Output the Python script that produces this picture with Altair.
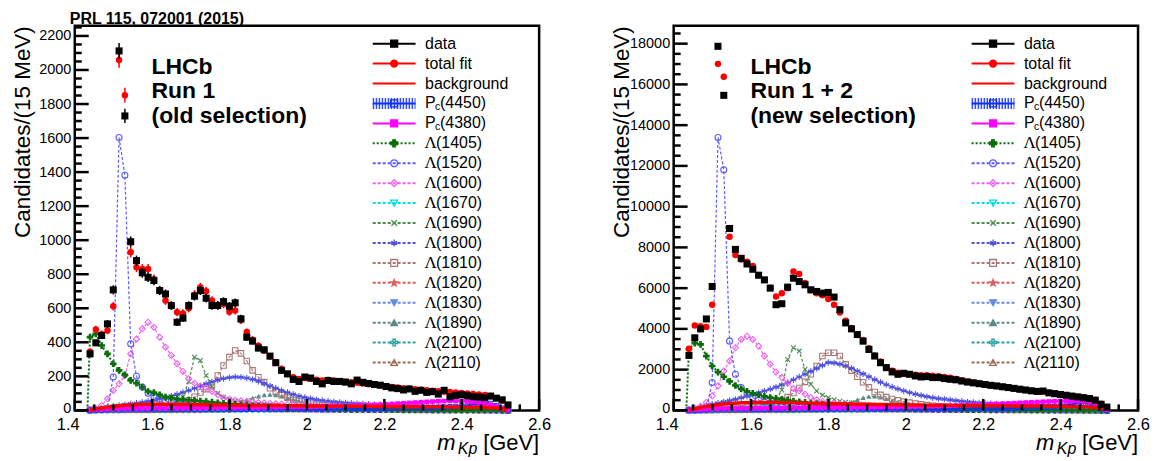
import altair as alt
import pandas as pd

FONT = "Liberation Sans"

# ---------------- bin centres (15 MeV bins) ----------------
mass = [1.4395, 1.4545, 1.4695, 1.4845, 1.4995, 1.5145, 1.5295, 1.5445, 1.5595, 1.5745,
        1.5895, 1.6045, 1.6195, 1.6345, 1.6495, 1.6645, 1.6795, 1.6945, 1.7095, 1.7245,
        1.7395, 1.7545, 1.7695, 1.7845, 1.7995, 1.8145, 1.8295, 1.8445, 1.8595, 1.8745,
        1.8895, 1.9045, 1.9195, 1.9345, 1.9495, 1.9645, 1.9795, 1.9945, 2.0095, 2.0245,
        2.0395, 2.0545, 2.0695, 2.0845, 2.0995, 2.1145, 2.1295, 2.1445, 2.1595, 2.1745,
        2.1895, 2.2045, 2.2195, 2.2345, 2.2495, 2.2645, 2.2795, 2.2945, 2.3095, 2.3245,
        2.3395, 2.3545, 2.3695, 2.3845, 2.3995, 2.4145, 2.4295, 2.4445, 2.4595, 2.4745,
        2.4895, 2.5045, 2.5195]
threshold = 1.4327

# ---------------- left panel (Run 1) ----------------
data_L = [332, 397, 440, 508, 708, 2112, 1730, 991, 880, 808,
          782, 763, 704, 684, 616, 518, 542, 616, 671, 704,
          659, 616, 616, 639, 612, 632, 538, 430, 407, 366,
          356, 319, 280, 235, 215, 182, 170, 196, 190, 170,
          156, 176, 170, 170, 166, 156, 178, 165, 158, 152,
          148, 140, 132, 128, 120, 126, 112, 118, 106, 110,
          96, 118, 80, 88, 92, 86, 80, 78, 74, 84,
          72, 62, 32]
fit_L = [345, 475, 448, 469, 612, 2059, 1852, 929, 841, 831,
         831, 770, 705, 645, 615, 577, 570, 600, 680, 723,
         700, 645, 618, 625, 580, 587, 530, 460, 415, 380,
         350, 318, 285, 245, 212, 195, 185, 190, 186, 180,
         176, 178, 175, 172, 168, 165, 162, 158, 154, 150,
         146, 142, 138, 134, 130, 127, 124, 121, 118, 115,
         112, 110, 108, 105, 102, 99, 96, 93, 90, 84,
         72, 56, 32]
L1405_L = [430, 450, 381, 332, 274, 235, 209, 176, 160, 137,
           111, 104, 92, 78, 72, 68, 64, 60, 57, 54,
           51, 48, 45, 42, 39, 36, 33, 30, 27, 25,
           23, 21, 19, 17, 15, 14, 13, 12, 11, 10,
           9, 8, 8, 7, 7, 6, 6, 5, 5, 5,
           4, 4, 4, 4, 3, 3, 3, 3, 3, 2,
           2, 2, 2, 2, 2, 2, 1, 1, 1, 1,
           1, 0, 0]
L1520_L = [1, 2, 4, 10, 196, 1603, 1382, 391, 201, 137,
           100, 80, 66, 56, 48, 42, 37, 33, 30, 27,
           25, 23, 21, 19, 18, 17, 16, 15, 14, 13,
           12, 11, 11, 10, 10, 9, 9, 8, 8, 8,
           7, 7, 7, 6, 6, 6, 6, 6, 5, 5,
           5, 5, 5, 5, 4, 4, 4, 4, 4, 4,
           4, 3, 3, 3, 3, 3, 3, 3, 3, 2,
           2, 2, 1]
L1600_L = [3, 10, 29, 68, 117, 156, 205, 332, 420, 479,
           518, 489, 430, 371, 323, 274, 229, 186, 160, 143,
           131, 111, 92, 72, 65, 60, 56, 52, 49, 46,
           43, 41, 39, 37, 35, 33, 32, 30, 29, 28,
           27, 26, 25, 24, 23, 23, 22, 21, 21, 20,
           20, 19, 19, 18, 18, 17, 17, 16, 16, 16,
           15, 15, 15, 14, 14, 14, 13, 13, 12, 11,
           9, 6, 3]
L1670_L = [1, 1, 2, 2, 3, 3, 4, 4, 5, 6,
           7, 8, 10, 14, 20, 26, 24, 17, 12, 10,
           9, 8, 8, 7, 7, 6, 6, 6, 5, 5,
           5, 5, 5, 5, 5, 5, 5, 5, 5, 5,
           5, 5, 5, 5, 5, 5, 5, 5, 5, 5,
           5, 5, 5, 5, 5, 5, 5, 5, 5, 5,
           5, 5, 5, 5, 5, 5, 5, 5, 5, 5,
           4, 3, 1]
L1690_L = [2, 3, 4, 5, 6, 8, 9, 11, 13, 15,
           17, 19, 22, 26, 30, 40, 80, 170, 313, 293,
           205, 140, 100, 78, 65, 56, 50, 45, 41, 38,
           35, 32, 30, 28, 26, 24, 22, 21, 20, 19,
           18, 17, 16, 15, 14, 14, 13, 13, 12, 12,
           11, 11, 10, 10, 10, 9, 9, 9, 8, 8,
           8, 7, 7, 7, 6, 6, 6, 5, 5, 4,
           3, 2, 1]
L1800_L = [5, 10, 15, 20, 25, 30, 34, 38, 42, 47,
           53, 60, 67, 75, 84, 94, 105, 117, 130, 143,
           156, 168, 178, 187, 193, 196, 195, 190, 182, 171,
           158, 144, 130, 117, 105, 94, 84, 76, 69, 63,
           58, 54, 50, 47, 44, 42, 40, 38, 36, 34,
           33, 31, 30, 29, 28, 27, 26, 25, 24, 23,
           22, 21, 20, 19, 18, 17, 16, 15, 14, 12,
           10, 7, 4]
L1810_L = [3, 4, 5, 6, 7, 8, 9, 10, 11, 13,
           15, 17, 19, 22, 25, 35, 45, 60, 80, 105,
           125, 150, 205, 264, 313, 352, 335, 290, 235, 195,
           166, 130, 110, 90, 75, 62, 52, 45, 39, 34,
           30, 27, 24, 21, 19, 17, 15, 14, 13, 12,
           11, 10, 9, 9, 8, 8, 7, 7, 6, 6,
           6, 5, 5, 5, 4, 4, 4, 3, 3, 3,
           2, 2, 1]
L1820_L = [0, 1, 1, 1, 2, 2, 2, 2, 3, 3,
           3, 3, 4, 4, 4, 5, 5, 6, 6, 7,
           8, 9, 10, 11, 12, 12, 12, 11, 10, 9,
           8, 7, 6, 6, 5, 5, 4, 4, 4, 3,
           3, 3, 3, 3, 2, 2, 2, 2, 2, 2,
           2, 2, 2, 2, 2, 2, 1, 1, 1, 1,
           1, 1, 1, 1, 1, 1, 1, 1, 1, 1,
           1, 0, 0]
L1830_L = [0, 1, 1, 1, 2, 2, 2, 3, 3, 3,
           4, 4, 5, 5, 6, 7, 8, 9, 10, 12,
           14, 16, 18, 21, 23, 25, 26, 25, 23, 20,
           17, 14, 12, 10, 8, 7, 6, 5, 4, 4,
           3, 3, 3, 3, 2, 2, 2, 2, 2, 2,
           2, 2, 2, 1, 1, 1, 1, 1, 1, 1,
           1, 1, 1, 1, 1, 1, 1, 1, 1, 1,
           1, 0, 0]
L1890_L = [1, 1, 2, 2, 3, 3, 4, 4, 5, 5,
           6, 6, 7, 8, 9, 10, 11, 12, 13, 15,
           17, 20, 24, 29, 35, 43, 52, 62, 73, 83,
           90, 93, 90, 83, 74, 64, 55, 47, 40, 34,
           29, 25, 22, 19, 17, 15, 13, 12, 11, 10,
           9, 8, 8, 7, 7, 6, 6, 5, 5, 5,
           4, 4, 4, 4, 3, 3, 3, 3, 2, 2,
           2, 1, 1]
L2100_L = [0, 1, 1, 1, 1, 1, 2, 2, 2, 2,
           2, 2, 2, 3, 3, 3, 3, 3, 3, 3,
           4, 4, 4, 4, 4, 5, 5, 5, 5, 6,
           6, 6, 7, 7, 7, 8, 8, 9, 9, 10,
           10, 11, 11, 11, 12, 12, 12, 11, 11, 10,
           10, 9, 9, 8, 8, 7, 7, 7, 6, 6,
           6, 5, 5, 5, 5, 4, 4, 4, 3, 3,
           2, 1, 0]
L2110_L = [0, 1, 1, 1, 1, 2, 2, 2, 2, 2,
           3, 3, 3, 3, 3, 4, 4, 4, 4, 5,
           5, 5, 5, 6, 6, 6, 6, 7, 7, 7,
           7, 8, 8, 8, 8, 9, 9, 9, 9, 9,
           10, 10, 10, 10, 10, 10, 10, 10, 10, 10,
           10, 9, 9, 9, 9, 8, 8, 8, 7, 7,
           7, 6, 6, 6, 5, 5, 4, 4, 3, 3,
           2, 1, 0]
bkg_L = [2, 8, 14, 19, 23, 27, 30, 32, 34, 35,
         36, 36, 36, 36, 36, 35, 35, 34, 34, 33,
         33, 32, 32, 31, 31, 30, 30, 30, 29, 29,
         29, 28, 28, 28, 27, 27, 27, 26, 26, 26,
         26, 25, 25, 25, 25, 24, 24, 24, 24, 23,
         23, 23, 23, 22, 22, 22, 22, 21, 21, 21,
         21, 20, 20, 20, 19, 19, 18, 18, 17, 16,
         14, 10, 4]
pc80_L = [3, 5, 7, 8, 9, 10, 11, 12, 12, 13,
          13, 13, 14, 14, 14, 14, 15, 15, 15, 15,
          15, 16, 16, 16, 16, 16, 17, 17, 17, 17,
          18, 18, 18, 19, 19, 20, 20, 21, 21, 22,
          23, 24, 25, 26, 27, 28, 29, 30, 31, 33,
          34, 36, 38, 40, 42, 44, 46, 48, 50, 52,
          54, 55, 56, 56, 55, 53, 50, 46, 40, 32,
          22, 10, 2]
pc50_L = [1, 2, 3, 3, 4, 4, 4, 5, 5, 5,
          5, 5, 5, 6, 6, 6, 6, 6, 6, 6,
          6, 7, 7, 7, 7, 7, 7, 7, 7, 8,
          8, 8, 8, 8, 8, 8, 9, 9, 9, 9,
          9, 10, 10, 10, 10, 10, 11, 11, 11, 12,
          12, 12, 13, 13, 14, 14, 15, 15, 16, 17,
          18, 19, 21, 23, 26, 30, 35, 40, 44, 40,
          28, 12, 2]

# ---------------- right panel (Run 1 + 2) ----------------
data_R = [2699, 3561, 4000, 4488, 6081, 17870, 15463, 8927, 7902, 7463,
          7187, 6927, 6634, 6406, 6000, 5187, 5236, 6049, 6488, 6325,
          6163, 5919, 5837, 5756, 5789, 5561, 4943, 4293, 4000, 3724,
          3398, 2992, 2667, 2341, 2098, 1886, 1772, 1821, 1772, 1691,
          1642, 1659, 1610, 1610, 1561, 1528, 1500, 1440, 1390, 1350,
          1310, 1270, 1230, 1200, 1160, 1120, 1080, 1040, 1000, 960,
          930, 950, 860, 820, 780, 740, 700, 660, 620, 580,
          500, 300, 160]
fit_R = [3024, 4163, 4130, 4098, 5187, 17008, 16374, 8520, 7626, 7400,
         7300, 7089, 6650, 6400, 6020, 5590, 5750, 6000, 6813, 6699,
         6250, 5900, 5750, 5650, 5463, 5187, 4800, 4400, 4050, 3700,
         3450, 3050, 2700, 2400, 2100, 1950, 1850, 1800, 1780, 1750,
         1720, 1720, 1700, 1680, 1640, 1600, 1540, 1480, 1420, 1370,
         1320, 1270, 1230, 1190, 1150, 1110, 1070, 1030, 1000, 970,
         940, 910, 870, 830, 790, 750, 710, 670, 630, 590,
         520, 330, 170]
L1405_R = [3000, 3300, 3236, 2667, 2180, 1880, 1650, 1420, 1220, 1060,
           930, 840, 760, 690, 630, 585, 540, 500, 460, 425,
           390, 360, 330, 305, 280, 258, 238, 220, 203, 187,
           172, 158, 146, 134, 123, 113, 104, 96, 88, 81,
           75, 69, 64, 59, 54, 50, 46, 43, 40, 37,
           34, 31, 29, 27, 25, 23, 21, 19, 18, 16,
           15, 14, 13, 12, 11, 10, 9, 8, 7, 6,
           5, 3, 1]
L1520_R = [5, 10, 30, 80, 1366, 13398, 11805, 3398, 1772, 1122,
           800, 620, 510, 430, 370, 320, 285, 255, 230, 210,
           190, 175, 162, 150, 140, 130, 122, 115, 108, 102,
           96, 91, 86, 82, 78, 74, 70, 67, 64, 61,
           58, 56, 53, 51, 49, 47, 45, 43, 41, 40,
           38, 37, 35, 34, 33, 31, 30, 29, 28, 27,
           26, 25, 24, 23, 22, 21, 20, 18, 17, 15,
           12, 8, 3]
L1600_R = [20, 80, 200, 390, 715, 1203, 1935, 2423, 3073, 3480,
           3642, 3480, 3154, 2667, 2260, 1886, 1610, 1333, 1073, 959,
           797, 634, 520, 450, 400, 360, 330, 300, 275, 255,
           238, 222, 208, 196, 185, 175, 166, 158, 150, 143,
           137, 131, 126, 121, 116, 112, 108, 104, 100, 97,
           94, 91, 88, 85, 82, 80, 77, 75, 72, 70,
           68, 66, 64, 62, 60, 57, 54, 50, 45, 38,
           28, 16, 5]
L1670_R = [8, 9, 15, 17, 23, 25, 31, 33, 41, 47,
           57, 63, 81, 110, 162, 208, 191, 135, 97, 79,
           73, 65, 62, 57, 55, 49, 47, 46, 41, 40,
           39, 41, 40, 38, 40, 41, 39, 40, 40, 38,
           40, 41, 39, 40, 40, 38, 40, 41, 39, 40,
           40, 38, 40, 41, 39, 40, 40, 38, 40, 41,
           39, 40, 40, 38, 40, 41, 39, 40, 38, 36,
           32, 24, 8]
L1690_R = [10, 15, 20, 30, 40, 50, 60, 70, 85, 100,
           120, 140, 165, 200, 300, 500, 1000, 2500, 3073, 2911,
           2016, 1285, 950, 750, 620, 520, 450, 400, 360, 325,
           295, 270, 248, 228, 210, 195, 181, 168, 157, 147,
           138, 130, 122, 115, 109, 103, 98, 93, 88, 84,
           80, 76, 72, 69, 66, 63, 60, 57, 54, 52,
           49, 47, 45, 43, 40, 38, 35, 32, 28, 23,
           17, 10, 3]
L1800_R = [60, 120, 180, 240, 300, 360, 420, 480, 540, 620,
           700, 780, 860, 950, 1040, 1140, 1250, 1370, 1500, 1640,
           1780, 1920, 2060, 2210, 2350, 2330, 2270, 2180, 2060, 1930,
           1790, 1650, 1510, 1380, 1260, 1150, 1050, 960, 875, 800,
           735, 675, 620, 575, 555, 515, 480, 450, 420, 395,
           372, 352, 334, 318, 303, 290, 278, 266, 255, 245,
           235, 226, 217, 208, 199, 190, 180, 170, 158, 140,
           115, 80, 30]
L1810_R = [20, 25, 30, 40, 50, 60, 70, 80, 95, 110,
           130, 150, 175, 210, 250, 350, 500, 650, 850, 1100,
           1400, 1772, 2179, 2667, 2829, 2829, 2667, 2260, 1950, 1650,
           1380, 1130, 900, 760, 650, 560, 490, 430, 380, 335,
           295, 260, 230, 205, 182, 162, 145, 130, 117, 105,
           95, 86, 78, 71, 65, 59, 54, 49, 45, 41,
           37, 34, 31, 28, 25, 22, 19, 16, 13, 10,
           7, 4, 1]
L1820_R = [0, 8, 8, 8, 16, 16, 16, 16, 24, 24,
           24, 24, 32, 32, 32, 40, 40, 48, 48, 56,
           64, 72, 80, 88, 96, 96, 96, 88, 80, 72,
           64, 56, 48, 48, 40, 40, 32, 32, 32, 24,
           24, 24, 24, 24, 16, 16, 16, 16, 16, 16,
           16, 16, 16, 16, 16, 16, 8, 8, 8, 8,
           8, 8, 8, 8, 8, 8, 8, 8, 8, 8,
           8, 0, 0]
L1830_R = [0, 8, 8, 8, 16, 16, 16, 24, 24, 24,
           32, 32, 40, 40, 48, 56, 64, 72, 80, 96,
           112, 128, 144, 168, 184, 200, 208, 200, 184, 160,
           136, 112, 96, 80, 64, 56, 48, 40, 32, 32,
           24, 24, 24, 24, 16, 16, 16, 16, 16, 16,
           16, 16, 16, 8, 8, 8, 8, 8, 8, 8,
           8, 8, 8, 8, 8, 8, 8, 8, 8, 8,
           8, 0, 0]
L1890_R = [5, 5, 6, 7, 8, 9, 10, 12, 14, 16,
           18, 21, 24, 28, 33, 38, 44, 51, 60, 70,
           82, 96, 113, 135, 162, 200, 250, 320, 410, 520,
           620, 680, 690, 650, 570, 480, 400, 330, 270, 222,
           185, 155, 130, 110, 94, 81, 70, 61, 54, 48,
           43, 38, 34, 31, 28, 25, 23, 21, 19, 17,
           15, 14, 13, 12, 11, 10, 9, 8, 7, 6,
           5, 3, 1]
L2100_R = [0, 8, 8, 8, 8, 8, 16, 16, 16, 16,
           16, 16, 16, 24, 24, 24, 24, 24, 24, 24,
           32, 32, 32, 32, 32, 40, 40, 40, 40, 48,
           48, 48, 56, 56, 56, 64, 64, 72, 72, 80,
           80, 88, 88, 88, 96, 96, 96, 88, 88, 80,
           80, 72, 72, 64, 64, 56, 56, 56, 48, 48,
           48, 40, 40, 40, 40, 32, 32, 32, 24, 24,
           16, 8, 0]
L2110_R = [0, 8, 8, 8, 8, 16, 16, 16, 16, 16,
           24, 24, 24, 24, 24, 32, 32, 32, 32, 40,
           40, 40, 40, 48, 48, 48, 48, 56, 56, 56,
           56, 64, 64, 64, 64, 72, 72, 72, 72, 72,
           80, 80, 80, 80, 80, 80, 80, 80, 80, 80,
           80, 72, 72, 72, 72, 64, 64, 64, 56, 56,
           56, 48, 48, 48, 40, 40, 32, 32, 24, 24,
           16, 8, 0]
bkg_R = [20, 80, 140, 195, 240, 280, 310, 335, 355, 370,
         380, 385, 388, 388, 386, 383, 380, 375, 370, 364,
         358, 352, 346, 340, 334, 328, 322, 316, 311, 306,
         301, 296, 291, 287, 283, 279, 275, 271, 267, 264,
         261, 258, 255, 252, 249, 246, 243, 240, 238, 235,
         233, 230, 228, 226, 223, 221, 219, 217, 214, 212,
         210, 207, 205, 202, 199, 195, 190, 184, 176, 164,
         145, 105, 40]
pc80_R = [20, 40, 55, 65, 75, 82, 88, 93, 97, 100,
          103, 106, 108, 110, 112, 114, 116, 118, 120, 122,
          124, 126, 128, 130, 132, 134, 136, 138, 140, 143,
          146, 149, 152, 156, 160, 164, 168, 173, 178, 184,
          190, 197, 204, 212, 220, 229, 238, 248, 258, 269,
          280, 292, 304, 317, 330, 343, 357, 371, 385, 399,
          412, 425, 437, 447, 455, 460, 460, 455, 440, 410,
          330, 180, 40]
pc50_R = [10, 15, 20, 25, 30, 33, 36, 38, 40, 42,
          44, 46, 48, 50, 52, 53, 54, 55, 56, 57,
          58, 59, 60, 61, 62, 63, 64, 65, 66, 67,
          68, 69, 70, 71, 72, 73, 74, 75, 76, 77,
          78, 79, 80, 81, 82, 83, 85, 87, 89, 91,
          93, 95, 98, 101, 104, 108, 112, 117, 123, 130,
          140, 152, 168, 190, 220, 260, 305, 345, 360, 320,
          220, 100, 20]

# ---------------- axis tick values ----------------
x_major = [1.4, 1.6, 1.8, 2.0, 2.2, 2.4, 2.6]
x_minor = [1.45, 1.5, 1.55, 1.65, 1.7, 1.75, 1.85, 1.9, 1.95,
           2.05, 2.1, 2.15, 2.25, 2.3, 2.35, 2.45, 2.5, 2.55]
yL_major = list(range(0, 2201, 200))
yL_minor = [v for v in range(50, 2260, 50) if v % 200]
yR_major = list(range(0, 18001, 2000))
yR_minor = [v for v in range(500, 18880, 500) if v % 2000]

# ---------------- legend ----------------
leg_keys = ["data", "fit", "bkg", "pc50", "pc80", "L1405", "L1520", "L1600", "L1670",
            "L1690", "L1800", "L1810", "L1820", "L1830", "L1890", "L2100", "L2110"]
leg_kind = ["plain", "plain", "plain", "pc", "pc"] + ["lam"] * 12
leg_rest = ["data", "total fit", "background", "(4450)", "(4380)", "(1405)", "(1520)",
            "(1600)", "(1670)", "(1690)", "(1800)", "(1810)", "(1820)", "(1830)",
            "(1890)", "(2100)", "(2110)"]

XPATH = "M-0.8,-0.8L0.8,0.8M-0.8,0.8L0.8,-0.8"
ASTER = "M0,-1L0,1M-0.87,-0.5L0.87,0.5M-0.87,0.5L0.87,-0.5M-1,0L1,0"
STAR = ("M0,-1L0.24,-0.33L0.95,-0.31L0.38,0.12L0.59,0.81L0,0.4L-0.59,0.81"
        "L-0.38,0.12L-0.95,-0.31L-0.24,-0.33Z")
OCROSS = ("M-0.33,-1L0.33,-1L0.33,-0.33L1,-0.33L1,0.33L0.33,0.33L0.33,1L-0.33,1"
          "L-0.33,0.33L-1,0.33L-1,-0.33L-0.33,-0.33Z")

SOLID = [1, 0]
DASH = [3, 2]
style = {
    "data":  dict(color="black",   dash=SOLID, sw=2.0, shape="square", fill="black", lsize=50, psize=50),
    "fit":   dict(color="#ff0000", dash=SOLID, sw=2.0, shape="circle", fill="#ff0000", lsize=45, psize=42),
    "bkg":   dict(color="#ff0000", dash=SOLID, sw=3.5, shape="circle", fill="#ff0000", lsize=0, psize=0),
    "pc50":  dict(color="#1030ff", dash=SOLID, sw=2.0, shape="square", fill="transparent", lsize=45, psize=20),
    "pc80":  dict(color="#ff00ff", dash=SOLID, sw=3.0, shape="square", fill="#ff00ff", lsize=45, psize=22),
    "L1405": dict(color="#0a6e0a", dash=[2, 2], sw=2.0, shape="cross", fill="#0a6e0a", lsize=120, psize=45),
    "L1520": dict(color="#5c5cff", dash=DASH, sw=1.2, shape="circle", fill="transparent", lsize=110, psize=36),
    "L1600": dict(color="#f060f0", dash=DASH, sw=1.2, shape="diamond", fill="transparent", lsize=100, psize=36),
    "L1670": dict(color="#00dede", dash=DASH, sw=1.2, shape="triangle-down", fill="transparent", lsize=70, psize=28),
    "L1690": dict(color="#4e8a4e", dash=DASH, sw=1.2, shape=XPATH, fill="transparent", lsize=70, psize=34),
    "L1800": dict(color="#5050e0", dash=DASH, sw=1.2, shape=ASTER, fill="transparent", lsize=110, psize=40),
    "L1810": dict(color="#a87878", dash=DASH, sw=1.2, shape="square", fill="transparent", lsize=70, psize=30),
    "L1820": dict(color="#d85a5a", dash=DASH, sw=1.2, shape=STAR, fill="transparent", lsize=110, psize=30),
    "L1830": dict(color="#6a8ae6", dash=DASH, sw=1.2, shape="triangle-down", fill="#6a8ae6", lsize=70, psize=28),
    "L1890": dict(color="#5e8888", dash=DASH, sw=1.2, shape="triangle-up", fill="#5e8888", lsize=70, psize=28),
    "L2100": dict(color="#28a0a0", dash=DASH, sw=1.2, shape=OCROSS, fill="transparent", lsize=90, psize=30),
    "L2110": dict(color="#9a6a55", dash=DASH, sw=1.2, shape="triangle-up", fill="transparent", lsize=80, psize=30),
}
comp_order = ["L2110", "L2100", "L1890", "L1830", "L1820", "L1810", "L1800",
              "L1690", "L1670", "L1600", "L1520", "L1405"]

W, H = 466, 386


def make_panel(series, ymax, ymaj, ymin, note, with_prl):
    for k, v in series.items():
        if len(v) != len(mass):
            raise ValueError(f"{k} has {len(v)} values")
    df = pd.DataFrame({"m": mass, **series})
    xs = alt.Scale(domain=[1.4, 2.6], nice=False, zero=False)
    ys = alt.Scale(domain=[0, ymax], nice=False, zero=False)
    xax = alt.Axis(values=x_major, format="~g", labelFontSize=16.5, labelPadding=6,
                   labelOffset={"condition": {"test": "datum.value < 1.45", "value": -7}, "value": 0},
                   ticks=False, tickSize=0, domain=False, grid=False, labelFlush=False,
                   labelOverlap=False, title=None)
    yax = alt.Axis(values=ymaj, format="d", labelFontSize=14.5, labelPadding=4,
                   labelOffset={"condition": {"test": "datum.value == 0", "value": -2}, "value": 0},
                   ticks=False, tickSize=0, domain=False, grid=False, labelFlush=False,
                   labelOverlap=False, title="Candidates/(15 MeV)", titleFontSize=22.5,
                   titleFontWeight="normal", titleX=-45, titleY=0, titleAngle=270,
                   titleAlign="right", titleBaseline="alphabetic")

    def X(f="m"):
        return alt.X(f"{f}:Q", scale=xs, axis=xax)

    def Y(f):
        return alt.Y(f"{f}:Q", scale=ys, axis=yax)

    base = alt.Chart(df)
    layers = []
    for key in comp_order:
        st = style[key]
        if key == "L1405":
            ldf = pd.DataFrame({"m": [threshold] + mass, "v": [0] + series[key]})
            layers.append(alt.Chart(ldf).mark_line(color=st["color"], strokeDash=st["dash"],
                                                   strokeWidth=st["sw"]).encode(x=X(), y=Y("v")))
        else:
            layers.append(base.mark_line(color=st["color"], strokeDash=st["dash"],
                                         strokeWidth=st["sw"]).encode(x=X(), y=Y(key)))
        filled = st["fill"] != "transparent"
        layers.append(base.mark_point(shape=st["shape"], filled=filled, color=st["color"],
                                      size=st["psize"], opacity=1, strokeWidth=1.1)
                      .encode(x=X(), y=Y(key)))
    # P_c contributions and background
    st = style["pc50"]
    layers.append(base.mark_line(color=st["color"], strokeWidth=st["sw"]).encode(x=X(), y=Y("pc50")))
    layers.append(base.mark_point(shape="square", filled=False, color=st["color"], size=st["psize"],
                                  opacity=1, strokeWidth=1).encode(x=X(), y=Y("pc50")))
    st = style["pc80"]
    layers.append(base.mark_line(color=st["color"], strokeWidth=st["sw"]).encode(x=X(), y=Y("pc80")))
    layers.append(base.mark_point(shape="square", filled=True, color=st["color"], size=st["psize"],
                                  opacity=1).encode(x=X(), y=Y("pc80")))
    st = style["bkg"]
    layers.append(base.mark_line(color=st["color"], strokeWidth=st["sw"]).encode(x=X(), y=Y("bkg")))
    # total fit
    layers.append(base.transform_calculate(lo="datum.fit - sqrt(datum.fit)",
                                           hi="datum.fit + sqrt(datum.fit)")
                  .mark_rule(color="#ff0000", strokeWidth=1.5)
                  .encode(x=X(), y=Y("lo"), y2=alt.Y2("hi:Q")))
    layers.append(base.mark_circle(color="#ff0000", size=style["fit"]["psize"], opacity=1)
                  .encode(x=X(), y=Y("fit")))
    # data
    layers.append(base.transform_calculate(lo="datum.data - sqrt(datum.data)",
                                           hi="datum.data + sqrt(datum.data)")
                  .mark_rule(color="black", strokeWidth=1.5)
                  .encode(x=X(), y=Y("lo"), y2=alt.Y2("hi:Q")))
    layers.append(base.mark_square(color="black", size=style["data"]["psize"], opacity=1)
                  .encode(x=X(), y=Y("data")))
    # inward ticks
    layers.append(alt.Chart(pd.DataFrame({"v": ymaj})).mark_rule(color="black", strokeWidth=2.5)
                  .encode(y=Y("v"), x=alt.value(0), x2=alt.value(14)))
    layers.append(alt.Chart(pd.DataFrame({"v": ymin})).mark_rule(color="black", strokeWidth=2.5)
                  .encode(y=Y("v"), x=alt.value(0), x2=alt.value(7)))
    layers.append(alt.Chart(pd.DataFrame({"v": x_major})).mark_rule(color="black", strokeWidth=2.5)
                  .encode(x=X("v"), y=alt.value(H), y2=alt.value(H - 11.5)))
    layers.append(alt.Chart(pd.DataFrame({"v": x_minor})).mark_rule(color="black", strokeWidth=2.5)
                  .encode(x=X("v"), y=alt.value(H), y2=alt.value(H - 6)))
    # texts
    tdf = pd.DataFrame({"t": [note]})
    layers.append(alt.Chart(tdf).mark_text(align="left", baseline="alphabetic", font=FONT,
                                           fontSize=23, fontWeight="bold", lineBreak="\n",
                                           lineHeight=25, color="black")
                  .encode(text="t:N", x=alt.value(77), y=alt.value(48)))
    if with_prl:
        pdf = pd.DataFrame({"t": ["PRL 115, 072001 (2015)"]})
        layers.append(alt.Chart(pdf).mark_text(align="left", baseline="alphabetic", font=FONT,
                                               fontSize=16, fontWeight="bold", color="black")
                      .encode(text="t:N", x=alt.value(-5), y=alt.value(-2)))
    xt = pd.DataFrame({"a": ["[GeV]"], "b": ["Kp"], "c": ["m"]})
    layers.append(alt.Chart(xt).mark_text(align="right", baseline="alphabetic", font=FONT,
                                          fontSize=22, color="black")
                  .encode(text="a:N", x=alt.value(466), y=alt.value(426)))
    layers.append(alt.Chart(xt).mark_text(align="right", baseline="alphabetic", font=FONT,
                                          fontSize=16, fontStyle="italic", color="black")
                  .encode(text="b:N", x=alt.value(404), y=alt.value(430)))
    layers.append(alt.Chart(xt).mark_text(align="right", baseline="alphabetic", font=FONT,
                                          fontSize=22, fontStyle="italic", color="black")
                  .encode(text="c:N", x=alt.value(382), y=alt.value(426)))

    # ---------- legend ----------
    ldf = pd.DataFrame({"idx": list(range(len(leg_keys))), "key": leg_keys,
                        "kind": leg_kind, "rest": leg_rest})
    LY = alt.Y("idx:Q", scale=alt.Scale(domain=[0, 16], range=[18, 338], nice=False, zero=False),
               axis=None)
    stroke_sc = alt.Scale(domain=leg_keys, range=[style[k]["color"] for k in leg_keys])
    dash_sc = alt.Scale(domain=leg_keys, range=[style[k]["dash"] for k in leg_keys])
    sw_sc = alt.Scale(domain=leg_keys, range=[style[k]["sw"] for k in leg_keys])
    shape_sc = alt.Scale(domain=leg_keys, range=[style[k]["shape"] for k in leg_keys])
    fill_sc = alt.Scale(domain=leg_keys, range=[style[k]["fill"] for k in leg_keys])
    size_sc = alt.Scale(domain=leg_keys, range=[style[k]["lsize"] for k in leg_keys])
    lb = alt.Chart(ldf)
    leg = []
    leg.append(lb.transform_filter("datum.key == 'pc50'")
               .mark_rule(strokeWidth=11, strokeDash=[1.5, 1.5], color="#3050ff")
               .encode(x=alt.value(299), x2=alt.value(342), y=LY))
    leg.append(lb.mark_rule().encode(
        x=alt.value(299), x2=alt.value(342), y=LY,
        stroke=alt.Stroke("key:N", scale=stroke_sc, legend=None),
        strokeDash=alt.StrokeDash("key:N", scale=dash_sc, legend=None),
        strokeWidth=alt.StrokeWidth("key:N", scale=sw_sc, legend=None)))
    leg.append(lb.transform_filter("datum.key != 'bkg'").mark_point(filled=False, opacity=1, strokeWidth=1.3)
               .encode(x=alt.value(320.5), y=LY,
                       shape=alt.Shape("key:N", scale=shape_sc, legend=None),
                       stroke=alt.Stroke("key:N", scale=stroke_sc, legend=None),
                       fill=alt.Fill("key:N", scale=fill_sc, legend=None),
                       size=alt.Size("key:N", scale=size_sc, legend=None)))
    tkw = dict(align="left", baseline="middle", font=FONT, fontSize=16, color="black")
    leg.append(lb.transform_filter("datum.kind == 'plain'").mark_text(**tkw)
               .encode(x=alt.value(351.5), y=LY, text="rest:N"))
    leg.append(lb.transform_filter("datum.kind == 'pc'").mark_text(**tkw)
               .encode(x=alt.value(351.5), y=LY, text=alt.value("P")))
    leg.append(lb.transform_filter("datum.kind == 'pc'")
               .mark_text(align="left", baseline="middle", font=FONT, fontSize=10.5, dy=4, color="black")
               .encode(x=alt.value(361.5), y=LY, text=alt.value("c")))
    leg.append(lb.transform_filter("datum.kind == 'pc'").mark_text(**tkw)
               .encode(x=alt.value(366.5), y=LY, text="rest:N"))
    leg.append(lb.transform_filter("datum.kind == 'lam'")
               .mark_text(align="left", baseline="middle", font="Liberation Serif", fontSize=17, color="black")
               .encode(x=alt.value(351), y=LY, text=alt.value("Λ")))
    leg.append(lb.transform_filter("datum.kind == 'lam'").mark_text(**tkw)
               .encode(x=alt.value(362.5), y=LY, text="rest:N"))

    return (alt.layer(alt.layer(*layers), alt.layer(*leg))
            .resolve_scale(y="independent")
            .properties(width=W, height=H))


left = make_panel({"data": data_L, "fit": fit_L, "bkg": bkg_L, "pc50": pc50_L, "pc80": pc80_L,
                   "L1405": L1405_L, "L1520": L1520_L, "L1600": L1600_L, "L1670": L1670_L,
                   "L1690": L1690_L, "L1800": L1800_L, "L1810": L1810_L, "L1820": L1820_L,
                   "L1830": L1830_L, "L1890": L1890_L, "L2100": L2100_L, "L2110": L2110_L},
                  2260, yL_major, yL_minor, "LHCb\nRun 1\n(old selection)", True)
right = make_panel({"data": data_R, "fit": fit_R, "bkg": bkg_R, "pc50": pc50_R, "pc80": pc80_R,
                    "L1405": L1405_R, "L1520": L1520_R, "L1600": L1600_R, "L1670": L1670_R,
                    "L1690": L1690_R, "L1800": L1800_R, "L1810": L1810_R, "L1820": L1820_R,
                    "L1830": L1830_R, "L1890": L1890_R, "L2100": L2100_R, "L2110": L2110_R},
                   18880, yR_major, yR_minor, "LHCb\nRun 1 + 2\n(new selection)", False)

chart = (alt.hconcat(left, right, spacing=135, bounds="flush")
         .properties(padding={"left": 2, "top": 0, "right": 0, "bottom": 0}, background="white")
         .configure_view(stroke="black", strokeWidth=2.5)
         .configure_axis(labelFont=FONT, titleFont=FONT, labelColor="black", titleColor="black"))

chart.save("out.html", embed_options={"renderer": "svg", "actions": False})
